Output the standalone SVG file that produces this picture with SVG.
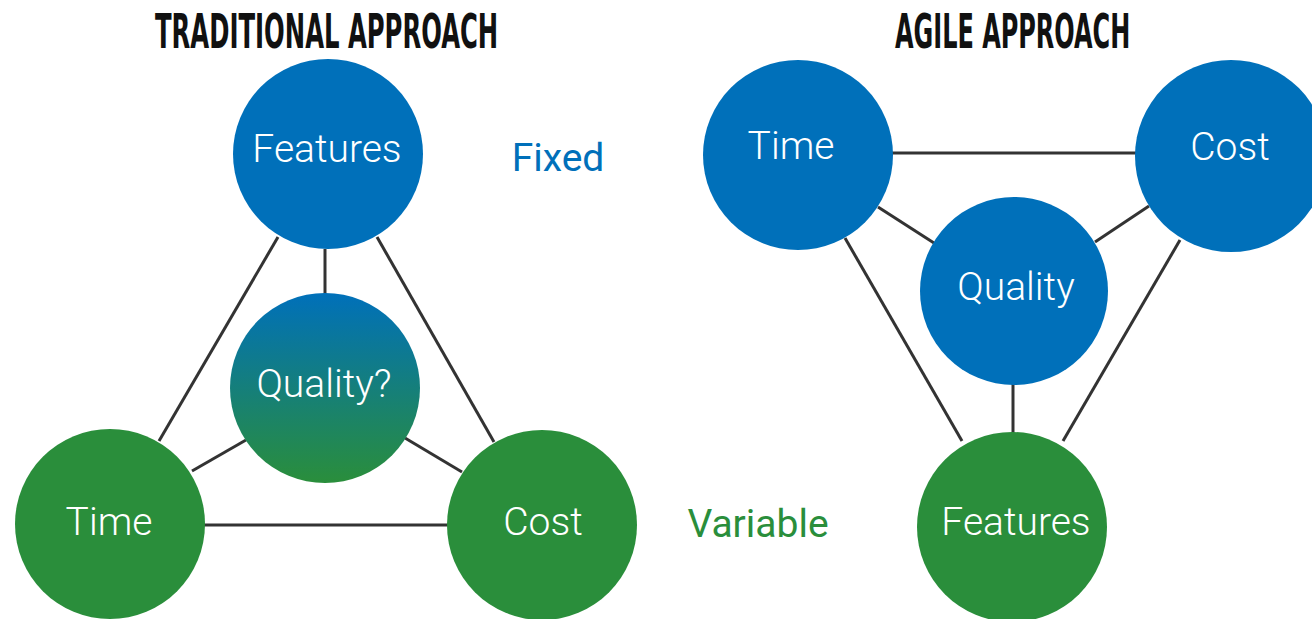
<svg xmlns="http://www.w3.org/2000/svg" width="1312" height="619" viewBox="0 0 1312 619">
  <style>
    .title { font-family: "DejaVu Sans Condensed", "Liberation Sans Narrow", "Liberation Sans", sans-serif; font-weight: bold; font-size: 48px; fill: #111111; }
    .lbl { font-family: Roboto, "Liberation Sans", sans-serif; font-weight: 300; font-size: 39px; fill: #ffffff; text-anchor: middle; }
    .side { font-family: Roboto, "Liberation Sans", sans-serif; font-size: 39px; text-anchor: middle; }
    .blue { fill: #0070BA; }
    .green { fill: #2A8E3B; }
    .conn line { stroke: #333333; stroke-width: 3; }
  </style>
  <defs>
    <linearGradient id="qgrad" x1="0" y1="0" x2="0" y2="1">
      <stop offset="0" stop-color="#0070BA"/>
      <stop offset="1" stop-color="#2A8E3B"/>
    </linearGradient>
  </defs>
  <rect width="1312" height="619" fill="#ffffff"/>

  <g id="title-traditional" transform="translate(155,48) scale(0.6,1)">
    <text class="title" x="0" y="0" textLength="572" lengthAdjust="spacingAndGlyphs">TRADITIONAL APPROACH</text>
  </g>
  <g id="title-agile" transform="translate(895,48) scale(0.6,1)">
    <text class="title" x="0" y="0" textLength="392" lengthAdjust="spacingAndGlyphs">AGILE APPROACH</text>
  </g>

  <g id="connectors" class="conn">
    <!-- traditional -->
    <line x1="325" y1="249" x2="325" y2="294"/>
    <line x1="278" y1="237" x2="159" y2="441"/>
    <line x1="377" y1="237" x2="494" y2="442"/>
    <line x1="192" y1="471" x2="246" y2="440"/>
    <line x1="405" y1="438" x2="462" y2="472"/>
    <line x1="204" y1="525" x2="448" y2="525"/>
    <!-- agile -->
    <line x1="892" y1="153" x2="1136" y2="153"/>
    <line x1="878" y1="207" x2="934" y2="243"/>
    <line x1="1095" y1="242" x2="1149" y2="206"/>
    <line x1="845" y1="238" x2="962" y2="441"/>
    <line x1="1180" y1="240" x2="1063" y2="441"/>
    <line x1="1013" y1="384" x2="1013" y2="433"/>
  </g>

  <g id="trad-features">
    <circle class="blue" cx="328" cy="154" r="95"/>
    <text class="lbl" x="327" y="162">Features</text>
  </g>
  <g id="trad-quality">
    <circle cx="325" cy="388" r="95" fill="url(#qgrad)"/>
    <text class="lbl" x="324" y="397">Quality?</text>
  </g>
  <g id="trad-time">
    <circle class="green" cx="110" cy="524" r="95"/>
    <text class="lbl" x="109" y="535">Time</text>
  </g>
  <g id="trad-cost">
    <circle class="green" cx="542" cy="525" r="95"/>
    <text class="lbl" x="543" y="535">Cost</text>
  </g>

  <g id="label-fixed">
    <text class="side blue" x="558" y="171">Fixed</text>
  </g>
  <g id="label-variable">
    <text class="side green" x="758" y="537">Variable</text>
  </g>

  <g id="agile-time">
    <circle class="blue" cx="798" cy="155" r="95"/>
    <text class="lbl" x="791" y="159">Time</text>
  </g>
  <g id="agile-cost">
    <circle class="blue" cx="1231" cy="156" r="96"/>
    <text class="lbl" x="1230" y="160">Cost</text>
  </g>
  <g id="agile-quality">
    <circle class="blue" cx="1014" cy="291" r="94"/>
    <text class="lbl" x="1016" y="300">Quality</text>
  </g>
  <g id="agile-features">
    <circle class="green" cx="1012" cy="527" r="95"/>
    <text class="lbl" x="1016" y="535">Features</text>
  </g>
</svg>
